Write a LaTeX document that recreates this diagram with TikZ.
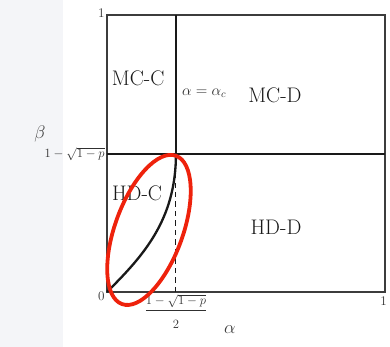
\documentclass[tikz,border=0pt]{standalone}
\usepackage{xcolor}
\usepackage{tikz}
\usepackage{amsmath}
\usetikzlibrary{calc}
\definecolor{ringred}{RGB}{238, 34, 12}
\definecolor{inkblack}{RGB}{25, 25, 25}
\definecolor{markgray}{RGB}{244, 245, 248}

\begin{document}
\begin{tikzpicture}[
    x=9.267cm, y=9.233cm,
    frame/.style={draw=inkblack!85, line width=1pt},
    border/.style={draw=inkblack, line width=2.4pt},
    region/.style={font=\fontsize{20}{22}\selectfont, text=inkblack},
    tick/.style={font=\fontsize{12.5}{14}\selectfont, text=inkblack!90, inner sep=2pt},
    axis/.style={font=\fontsize{18}{20}\selectfont, text=inkblack!85}
]
\useasboundingbox (-0.3849,-0.1986) rectangle (1.018,1.0542);

% Faint background strip
\fill[markgray] (-0.3849,-0.1986) rectangle (-0.158,1.0542);

% Frame
\coordinate (o) at (0,0);
\coordinate (tr) at (1,1);
\coordinate (crit) at (0.248,0.498);
\draw[frame] (o) rectangle (tr);

% Phase boundaries
\draw[border] (o |- crit) -- (tr |- crit);
\draw[border] (crit |- tr) -- (crit);
\draw[inkblack, line width=0.9pt, dash pattern=on 5pt off 4pt] (crit) -- (crit |- o);
\draw[border, line width=2.2pt] (o) .. controls (0.13,0.13) and (0.248,0.26) .. (crit);

% Regions
\node[region] (mcc) at (0.112,0.773) {MC-C};
\node[region] (mcd) at (0.604,0.711) {MC-D};
\node[region] (hdc) at (0.108,0.357) {HD-C};
\node[region] (hdd) at (0.608,0.235) {HD-D};
\node[tick, anchor=west, font=\fontsize{14}{16}\selectfont] (crit-lab) at (0.262,0.718) {$\alpha=\alpha_c$};

% Ticks and axes
\node[tick, anchor=east] (top1) at (0,1.008) {1};
\node[tick, anchor=north east] (zero) at (0,0.01) {0};
\node[tick, anchor=north] (right1) at (0.995,-0.008) {1};
\node[tick, anchor=east] (beta-val) at (0,0.498) {$1-\sqrt{1-p}$};
\node[tick, anchor=north] (alpha-val) at (0.248,0) {$\dfrac{1-\sqrt{1-p}}{\rule{0pt}{2.9ex}2}$};
\node[axis] (beta) at (-0.241,0.572) {$\beta$};
\node[axis] (alpha) at (0.442,-0.137) {$\alpha$};

% Highlight
\draw[ringred, line width=3.6pt, rotate around={70:(0.151,0.224)}] (0.151,0.224) ellipse (2.63cm and 1.13cm);

\end{tikzpicture}
\end{document}
